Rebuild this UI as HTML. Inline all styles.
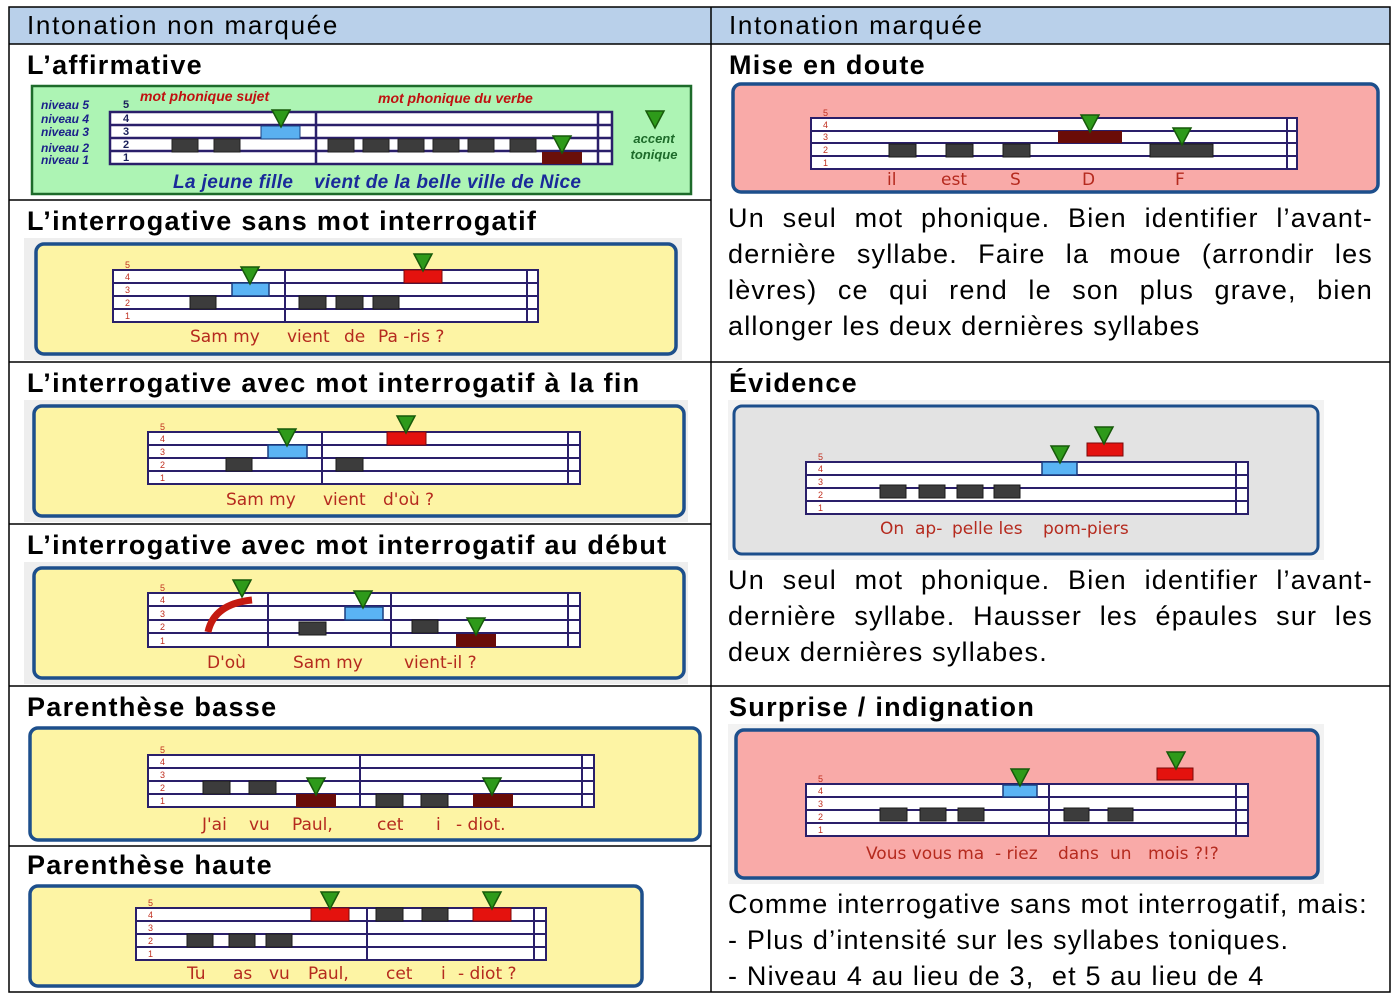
<!DOCTYPE html>
<html><head><meta charset="utf-8">
<style>
body{margin:0;width:1400px;height:996px;background:#fff;position:relative;overflow:hidden;font-family:"Liberation Sans",sans-serif}
.t{position:absolute;white-space:nowrap;color:#000}
.h{font-size:26px;top:10px;letter-spacing:1.7px}
.b{font-weight:bold;font-size:27px;letter-spacing:1.3px}
.p{position:absolute;left:728px;width:645px;font-size:27px;line-height:36px;text-align:justify;letter-spacing:1.2px}
svg{position:absolute;left:0;top:0}
</style></head><body>
<svg width="1400" height="996" xmlns="http://www.w3.org/2000/svg" font-family="Liberation Sans, sans-serif">
<defs>
<g id="tri"><polygon points="-9,-16 9,-16 0,1" fill="#2e9a1a" stroke="#175a0a" stroke-width="1.5"/></g>
</defs>
<rect x="9" y="7" width="1381" height="37" fill="#b9d0ea"/>
<g stroke="#000" stroke-width="1.5" fill="none">
<rect x="9" y="7" width="1381" height="985"/>
<line x1="711" y1="7" x2="711" y2="992"/>
<line x1="9" y1="44" x2="1390" y2="44"/>
<line x1="9" y1="200" x2="711" y2="200"/>
<line x1="9" y1="362" x2="1390" y2="362"/>
<line x1="9" y1="524" x2="711" y2="524"/>
<line x1="9" y1="686" x2="1390" y2="686"/>
<line x1="9" y1="846" x2="711" y2="846"/>
</g>

<rect x="32" y="86" width="659" height="108" fill="#adf4b4" stroke="#1d6b2a" stroke-width="2.5"/>
<g stroke="#2a1f6a" stroke-width="2.5" fill="#fff">
<rect x="110" y="112" width="502" height="52"/>
<line x1="110" y1="125" x2="612" y2="125"/><line x1="110" y1="138" x2="612" y2="138"/><line x1="110" y1="151" x2="612" y2="151"/>
<line x1="316" y1="112" x2="316" y2="164"/><line x1="598" y1="112" x2="598" y2="164"/>
</g>
<g fill="#3c3c3c" stroke="#222"><rect x="172" y="139" width="26" height="13"/><rect x="214" y="139" width="26" height="13"/>
<rect x="328" y="139" width="26" height="13"/><rect x="363" y="139" width="26" height="13"/><rect x="398" y="139" width="26" height="13"/><rect x="433" y="139" width="26" height="13"/><rect x="468" y="139" width="26" height="13"/><rect x="510" y="139" width="26" height="13"/></g>
<rect x="261" y="126" width="39" height="13" fill="#5ab0f0" stroke="#1a3f80"/>
<rect x="542" y="152" width="40" height="12" fill="#6a0f0a"/>
<use href="#tri" x="281" y="126"/><use href="#tri" x="562" y="152"/><use href="#tri" x="655" y="127"/>
<g font-style="italic" font-weight="bold" font-size="12" fill="#1a1f8a"><text x="41" y="109">niveau 5</text><text x="41" y="123">niveau 4</text><text x="41" y="136">niveau 3</text><text x="41" y="152">niveau 2</text><text x="41" y="164">niveau 1</text></g>
<g font-weight="bold" font-size="11" fill="#1a1f5a"><text x="123" y="108">5</text><text x="123" y="122">4</text><text x="123" y="135">3</text><text x="123" y="148">2</text><text x="123" y="161">1</text></g>
<g font-style="italic" font-weight="bold" font-size="14" fill="#c01010"><text x="140" y="101">mot phonique sujet</text><text x="378" y="103">mot phonique du verbe</text></g>
<g font-style="italic" font-weight="bold" font-size="13" fill="#1d6b2a" text-anchor="middle"><text x="654" y="143">accent</text><text x="654" y="159">tonique</text></g>
<g font-style="italic" font-weight="bold" font-size="19" fill="#1a2a9a"><text x="173" y="188" textLength="120">La jeune fille</text><text x="314" y="188" textLength="267">vient de la belle ville de Nice</text></g>

<g>
<rect x="24" y="238" width="658" height="122" fill="#eee"/>
<rect x="36" y="244" width="640" height="110" rx="8" fill="#fdf4a4" stroke="#1d4f8c" stroke-width="3.5"/>
<rect x="24" y="400" width="664" height="122" fill="#eee"/>
<rect x="34" y="406" width="650" height="110" rx="8" fill="#fdf4a4" stroke="#1d4f8c" stroke-width="3.5"/>
<rect x="24" y="562" width="664" height="122" fill="#eee"/>
<rect x="34" y="568" width="650" height="110" rx="8" fill="#fdf4a4" stroke="#1d4f8c" stroke-width="3.5"/>
<rect x="30" y="728" width="670" height="112" rx="8" fill="#fdf4a4" stroke="#1d4f8c" stroke-width="3.5"/>
<rect x="30" y="886" width="612" height="100" rx="8" fill="#fdf4a4" stroke="#1d4f8c" stroke-width="3.5"/>
<rect x="733" y="84" width="645" height="108" rx="8" fill="#f9aaa8" stroke="#1d4f8c" stroke-width="3.5"/>
<rect x="728" y="400" width="596" height="160" fill="#f2f2f2"/>
<rect x="734" y="406" width="584" height="148" rx="8" fill="#e3e3e3" stroke="#1d4f8c" stroke-width="3"/>
<rect x="728" y="724" width="596" height="160" fill="#f2f2f2"/>
<rect x="736" y="730" width="582" height="148" rx="8" fill="#f9aaa8" stroke="#1d4f8c" stroke-width="3.5"/>
</g>

<g stroke="#2a1f6a" stroke-width="2" fill="#fff">
<rect x="113" y="270" width="425" height="52"/><path d="M113 283H538M113 296H538M113 309H538M285 270V322M527 270V322"/>
<rect x="148" y="432" width="432" height="52"/><path d="M148 445H580M148 458H580M148 471H580M322 432V484M568 432V484"/>
<rect x="148" y="593" width="432" height="54"/><path d="M148 606H580M148 620H580M148 633H580M268 593V647M391 593V647M568 593V647"/>
<rect x="148" y="755" width="446" height="52"/><path d="M148 768H594M148 781H594M148 794H594M360 755V807M582 755V807"/>
<rect x="136" y="908" width="410" height="52"/><path d="M136 921H546M136 934H546M136 947H546M367 908V960M534 908V960"/>
<rect x="811" y="118" width="486" height="51"/><path d="M811 131H1297M811 143H1297M811 156H1297M1287 118V169"/>
<rect x="806" y="462" width="442" height="52"/><path d="M806 475H1248M806 488H1248M806 501H1248M1236 462V514"/>
<rect x="806" y="784" width="442" height="52"/><path d="M806 797H1248M806 810H1248M806 823H1248M1049 784V836M1236 784V836"/>
</g>

<g font-size="9" fill="#c03020">
<text x="125" y="268">5</text><text x="125" y="280">4</text><text x="125" y="293">3</text><text x="125" y="306">2</text><text x="125" y="319">1</text>
<text x="160" y="430">5</text><text x="160" y="442">4</text><text x="160" y="455">3</text><text x="160" y="468">2</text><text x="160" y="481">1</text>
<text x="160" y="591">5</text><text x="160" y="603">4</text><text x="160" y="617">3</text><text x="160" y="630">2</text><text x="160" y="644">1</text>
<text x="160" y="753">5</text><text x="160" y="765">4</text><text x="160" y="778">3</text><text x="160" y="791">2</text><text x="160" y="804">1</text>
<text x="148" y="906">5</text><text x="148" y="918">4</text><text x="148" y="931">3</text><text x="148" y="944">2</text><text x="148" y="957">1</text>
<text x="823" y="116">5</text><text x="823" y="128">4</text><text x="823" y="140">3</text><text x="823" y="153">2</text><text x="823" y="166">1</text>
<text x="818" y="460">5</text><text x="818" y="472">4</text><text x="818" y="485">3</text><text x="818" y="498">2</text><text x="818" y="511">1</text>
<text x="818" y="782">5</text><text x="818" y="794">4</text><text x="818" y="807">3</text><text x="818" y="820">2</text><text x="818" y="833">1</text>
</g>

<g fill="#3c3c3c" stroke="#1a1a1a">
<rect x="190" y="296" width="26" height="13"/><rect x="299" y="296" width="27" height="13"/><rect x="336" y="296" width="27" height="13"/><rect x="373" y="296" width="26" height="13"/>
<rect x="226" y="458" width="26" height="13"/><rect x="336" y="458" width="27" height="13"/>
<rect x="299" y="622" width="27" height="13"/><rect x="412" y="620" width="26" height="13"/>
<rect x="203" y="781" width="27" height="13"/><rect x="249" y="781" width="27" height="13"/><rect x="376" y="794" width="27" height="13"/><rect x="421" y="794" width="27" height="13"/>
<rect x="187" y="934" width="26" height="13"/><rect x="229" y="934" width="26" height="13"/><rect x="266" y="934" width="26" height="13"/><rect x="376" y="908" width="27" height="13"/><rect x="422" y="908" width="26" height="13"/>
<rect x="889" y="144" width="27" height="13"/><rect x="946" y="144" width="27" height="13"/><rect x="1003" y="144" width="27" height="13"/>
<rect x="1150" y="144" width="63" height="13"/>
<rect x="880" y="485" width="26" height="13"/><rect x="919" y="485" width="26" height="13"/><rect x="957" y="485" width="26" height="13"/><rect x="994" y="485" width="26" height="13"/>
<rect x="880" y="808" width="27" height="13"/><rect x="920" y="808" width="26" height="13"/><rect x="958" y="808" width="26" height="13"/><rect x="1064" y="808" width="25" height="13"/><rect x="1108" y="808" width="25" height="13"/>
</g>
<g fill="#5ab4f4" stroke="#1a3f80" stroke-width="1.5">
<rect x="232" y="283" width="37" height="13"/><rect x="268" y="445" width="39" height="13"/><rect x="345" y="607" width="38" height="13"/>
<rect x="1042" y="462" width="35" height="13"/><rect x="1003" y="785" width="34" height="12"/>
</g>
<g fill="#e4120e" stroke="#7a0a0a" stroke-width="1">
<rect x="404" y="270" width="38" height="13"/><rect x="387" y="432" width="39" height="13"/><rect x="311" y="908" width="38" height="13"/><rect x="473" y="908" width="38" height="13"/>
<rect x="1087" y="443" width="36" height="13"/><rect x="1157" y="768" width="36" height="12"/>
</g>
<g fill="#6a0c08">
<rect x="456" y="634" width="40" height="13"/><rect x="296" y="794" width="40" height="13"/><rect x="473" y="794" width="40" height="13"/><rect x="1058" y="131" width="64" height="12"/>
</g>
<path d="M208 632 Q214 604 252 600" stroke="#c41a10" stroke-width="7" fill="none"/>
<use href="#tri" x="250" y="283"/><use href="#tri" x="423" y="270"/>
<use href="#tri" x="287" y="445"/><use href="#tri" x="406" y="432"/>
<use href="#tri" x="242" y="596"/><use href="#tri" x="363" y="607"/><use href="#tri" x="476" y="634"/>
<use href="#tri" x="316" y="794"/><use href="#tri" x="492" y="794"/>
<use href="#tri" x="330" y="908"/><use href="#tri" x="492" y="908"/>
<use href="#tri" x="1090" y="131"/><use href="#tri" x="1182" y="144"/>
<use href="#tri" x="1060" y="462"/><use href="#tri" x="1104" y="443"/>
<use href="#tri" x="1020" y="785"/><use href="#tri" x="1176" y="768"/>

<g font-family="DejaVu Sans, sans-serif" font-size="17" fill="#b52a1e">
<text x="190" y="342">Sam my</text><text x="287" y="342">vient</text><text x="344" y="342">de</text><text x="378" y="342">Pa -ris ?</text>
<text x="226" y="505">Sam my</text><text x="323" y="505">vient</text><text x="383" y="505">d'où ?</text>
<text x="207" y="668">D'où</text><text x="293" y="668">Sam my</text><text x="404" y="668">vient-il ?</text>
<text x="202" y="830">J'ai</text><text x="249" y="830">vu</text><text x="292" y="830">Paul,</text><text x="377" y="830">cet</text><text x="436" y="830">i</text><text x="456" y="830">- diot.</text>
<text x="187" y="979">Tu</text><text x="233" y="979">as</text><text x="269" y="979">vu</text><text x="308" y="979">Paul,</text><text x="386" y="979">cet</text><text x="441" y="979">i</text><text x="458" y="979">- diot ?</text>
<text x="887" y="185">il</text><text x="941" y="185">est</text><text x="1010" y="185">S</text><text x="1082" y="185">D</text><text x="1175" y="185">F</text>
<text x="880" y="534">On</text><text x="915" y="534">ap-</text><text x="952" y="534">pelle les</text><text x="1043" y="534">pom-piers</text>
<text x="866" y="859">Vous vous ma</text><text x="995" y="859">- riez</text><text x="1058" y="859">dans</text><text x="1110" y="859">un</text><text x="1148" y="859">mois ?!?</text>
</g>
</svg>

<div class="t h" style="left:27px">Intonation non marquée</div>
<div class="t h" style="left:729px">Intonation marquée</div>
<div class="t b" style="left:27px;top:50px">L’affirmative</div>
<div class="t b" style="left:729px;top:50px">Mise en doute</div>
<div class="t b" style="left:27px;top:206px">L’interrogative sans mot interrogatif</div>
<div class="t b" style="left:27px;top:368px">L’interrogative avec mot interrogatif à la fin</div>
<div class="t b" style="left:729px;top:368px">Évidence</div>
<div class="t b" style="left:27px;top:530px">L’interrogative avec mot interrogatif au début</div>
<div class="t b" style="left:27px;top:692px">Parenthèse basse</div>
<div class="t b" style="left:729px;top:692px">Surprise / indignation</div>
<div class="t b" style="left:27px;top:850px">Parenthèse haute</div>
<div class="p" style="top:200px">Un seul mot phonique. Bien identifier l’avant-dernière syllabe. Faire la moue (arrondir les lèvres) ce qui rend le son plus grave, bien allonger les deux dernières syllabes</div>
<div class="p" style="top:562px">Un seul mot phonique. Bien identifier l’avant-dernière syllabe. Hausser les épaules sur les deux dernières syllabes.</div>
<div class="t" style="left:728px;top:886px;font-size:27px;line-height:36px;letter-spacing:1.2px">Comme interrogative sans mot interrogatif, mais:<br>- Plus d’intensité sur les syllabes toniques.<br>- Niveau 4 au lieu de 3,&nbsp; et 5 au lieu de 4</div>
</body></html>
